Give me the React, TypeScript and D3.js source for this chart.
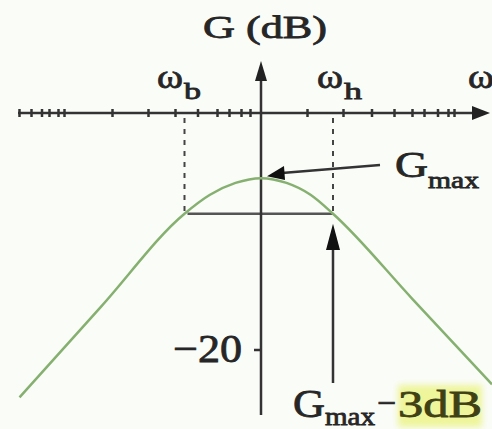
import * as d3 from "d3";

const W = 492;
const H = 429;

// x in decades of ω relative to the centre (vertical axis), y in dB
const xTicks = [
  -1.61, -1.53, -1.46, -1.41, -1.35, -1.31, -0.99, -0.75, -0.57, -0.42, -0.29, -0.21, -0.13, -0.07,
  0.31, 0.55, 0.74, 0.89, 1.01, 1.09, 1.18, 1.25, 1.29,
];
const yTicks = [-20];
const yTickLabels = ["\u221220"];

const curveW = [-1.61, -1.06, -0.51, -0.34, -0.17, 0, 0.17, 0.33, 0.48, 1.01, 1.54];
const curveG = [-24, -16.25, -8.5, -6.9, -5.9, -5.5, -5.9, -6.9, -8.5, -15.7, -22.9];

const gMax = -5.5;
const gCut = gMax - 3;
const wB = -0.51;
const wH = 0.48;

const FONT = "Liberation Serif, Times New Roman, serif";
const INK = "#262626";

const App = () => {
  const x = d3.scaleLinear().domain([-1.62, 1.54]).range([18, 492]);
  const y = d3.scaleLinear().domain([0, -20]).range([113, 350]);

  const line = d3
    .line<number>()
    .x((_, i) => x(curveW[i]))
    .y((d) => y(d))
    .curve(d3.curveMonotoneX);

  const x0 = x(0);
  const y0 = y(0);

  return (
    <svg width={W} height={H} style={{ position: "absolute", left: 0, top: 0, background: "#fafcf8" }}>
      <defs>
        <filter id="soft" x="-20%" y="-40%" width="140%" height="180%">
          <feGaussianBlur stdDeviation="3" />
        </filter>
      </defs>

      {/* dashed guides at the cut-off frequencies */}
      {[wB, wH].map((w, i) => (
        <line key={i} x1={x(w)} x2={x(w)} y1={y0 + 5} y2={y(gCut)} stroke="#444" strokeWidth={2} strokeDasharray="5 6" />
      ))}

      {/* -3 dB bar */}
      <line x1={x(wB) + 3} x2={x(wH)} y1={y(gCut)} y2={y(gCut)} stroke="#555" strokeWidth={2.5} />

      {/* horizontal axis */}
      <line x1={18} x2={478} y1={y0} y2={y0} stroke="#333" strokeWidth={2.5} />
      <path d={`M490,${y0} L472,${y0 - 7} L472,${y0 + 7} Z`} fill="#222" />
      {xTicks.map((t, i) => (
        <line key={i} x1={x(t)} x2={x(t)} y1={y0 - 4} y2={y0 + 4} stroke="#333" strokeWidth={2.5} />
      ))}

      {/* vertical axis */}
      <line x1={x0} x2={x0} y1={415} y2={75} stroke="#333" strokeWidth={2.5} />
      <path d={`M${x0},61 L${x0 - 6},81 L${x0 + 6},81 Z`} fill="#222" />
      {yTicks.map((t, i) => (
        <g key={i}>
          <line x1={x0 - 7} x2={x0} y1={y(t)} y2={y(t)} stroke="#333" strokeWidth={2.5} />
          <text x={242} y={y(t) + 12} textAnchor="end" fontFamily={FONT} fontSize={40} fill={INK}
            stroke={INK} strokeWidth={0.8} textLength={69} lengthAdjust="spacingAndGlyphs">
            {yTickLabels[i]}
          </text>
        </g>
      ))}

      {/* response curve */}
      <path d={line(curveG) ?? ""} fill="none" stroke="#86b070" strokeWidth={2.5} />

      {/* arrow to G max */}
      <line x1={380} x2={282} y1={165} y2={173} stroke="#333" strokeWidth={2.5} />
      <path d={`M${x0 + 6},${y(gMax) - 2} L284,166 L285,180 Z`} fill="#111" />

      {/* arrow up to -3 dB point */}
      <line x1={x(wH)} x2={x(wH)} y1={383} y2={246} stroke="#333" strokeWidth={2.5} />
      <path d={`M${x(wH)},${y(gCut) + 10} L${x(wH) - 7},250 L${x(wH) + 7},250 Z`} fill="#111" />

      {/* labels */}
      <g fontFamily={FONT} fill={INK} stroke={INK} strokeWidth={0.8}>
        <text x={203} y={38} fontSize={32} textLength={124} lengthAdjust="spacingAndGlyphs">G (dB)</text>

        <text x={157} y={88} fontSize={34} textLength={26} lengthAdjust="spacingAndGlyphs">ω</text>
        <text x={184} y={99} fontSize={24} textLength={17} lengthAdjust="spacingAndGlyphs">b</text>

        <text x={317} y={88} fontSize={34} textLength={26} lengthAdjust="spacingAndGlyphs">ω</text>
        <text x={344} y={99} fontSize={24} textLength={18} lengthAdjust="spacingAndGlyphs">h</text>

        <text x={468} y={88} fontSize={34} textLength={26} lengthAdjust="spacingAndGlyphs">ω</text>

        <text x={395} y={177} fontSize={36} textLength={33} lengthAdjust="spacingAndGlyphs">G</text>
        <text x={428} y={188} fontSize={24} textLength={51} lengthAdjust="spacingAndGlyphs">max</text>
      </g>

      <rect x={398} y={385} width={84} height={42} fill="#eef59a" filter="url(#soft)" />
      <g fontFamily={FONT} fill={INK} stroke={INK} strokeWidth={0.8}>
        <text x={293} y={417} fontSize={40} textLength={32} lengthAdjust="spacingAndGlyphs">G</text>
        <text x={325} y={425} fontSize={25} textLength={50} lengthAdjust="spacingAndGlyphs">max</text>
        <text x={377} y={415} fontSize={36} textLength={19} lengthAdjust="spacingAndGlyphs">−</text>
        <text x={398} y={417} fontSize={38} fill="#3f4014" stroke="#3f4014" textLength={84} lengthAdjust="spacingAndGlyphs">3dB</text>
      </g>
    </svg>
  );
};

export default App;
